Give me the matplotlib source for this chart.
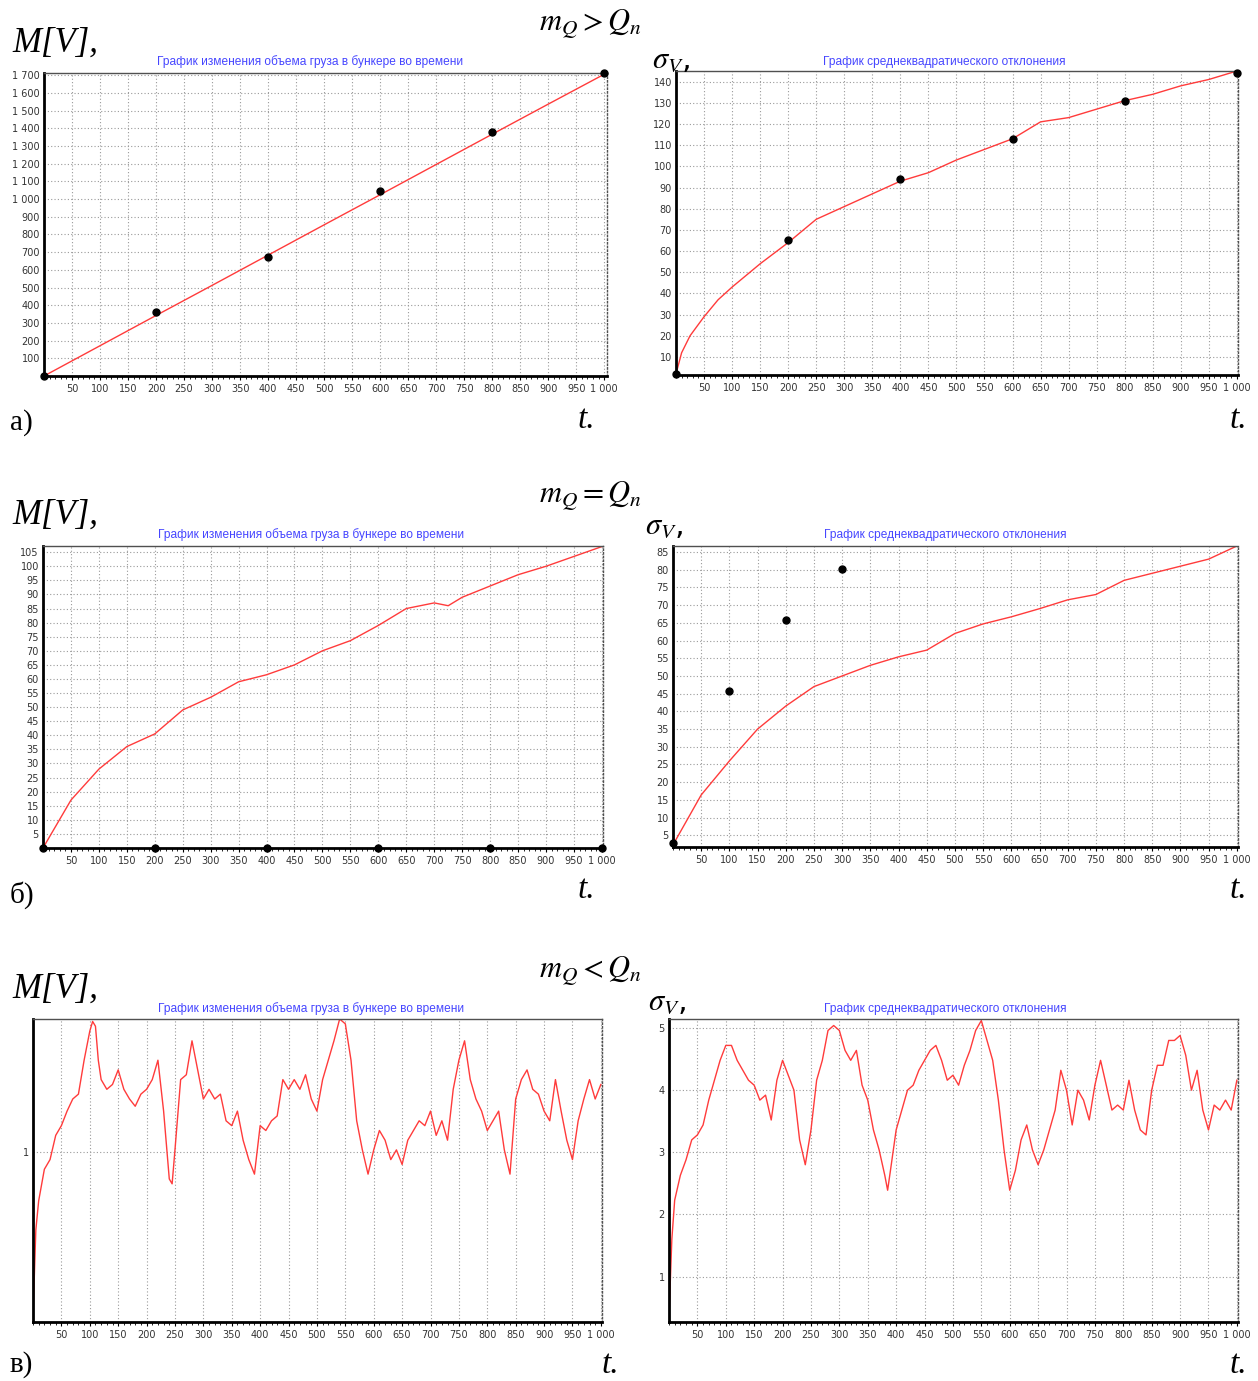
import numpy as np
import matplotlib.pyplot as plt
from matplotlib.ticker import FixedLocator, MultipleLocator, FuncFormatter

plt.rcParams['mathtext.fontset'] = 'stix'

# ---- data -------------------------------------------------------------
# a) m_Q > Q_n
t_a = [0, 100, 200, 300, 400, 500, 600, 700, 800, 900, 1000]
mv_a = [0, 171, 342, 512, 683, 854, 1024, 1195, 1366, 1536, 1705]
t_pts = [0, 200, 400, 600, 800, 1000]
mv_a_pts = [0, 360, 675, 1045, 1380, 1710]

t_sig_a = [0, 10, 25, 50, 75, 100, 150, 200, 250, 300, 350, 400, 450, 500,
           550, 600, 650, 700, 750, 800, 850, 900, 950, 1000]
sig_a = [2, 12, 20, 29, 37, 43, 54, 64, 75, 81, 87, 93, 97, 103,
         108, 113, 121, 123, 127, 131, 134, 138, 141, 145]
sig_a_pts = [2, 65, 94, 113, 131, 144]

# б) m_Q = Q_n
t_b = [0, 50, 100, 150, 200, 250, 300, 350, 400, 450, 500, 550, 600, 650,
       700, 725, 750, 800, 850, 900, 950, 1000]
mv_b = [0, 17, 28, 36, 40.5, 49, 53.5, 59, 61.5, 65, 70, 73.6, 79, 85,
        87, 86, 89, 93, 97, 100, 103.5, 107]
mv_b_pts = [0, 0, 0, 0, 0, 0]

t_sig_b = [0, 50, 100, 150, 200, 250, 300, 350, 400, 450, 500, 550, 600,
           650, 700, 750, 800, 850, 900, 950, 1000]
sig_b = [2.3, 16.4, 26, 35, 41.5, 47, 50, 53, 55.4, 57.3, 62, 64.7, 66.7,
         69, 71.5, 73, 77, 79, 81, 83, 86.7]
t_sig_b_pts = [0, 100, 200, 300]
sig_b_pts = [2.8, 45.8, 65.8, 80.2]

# в) m_Q < Q_n
t_c = [0, 5, 10, 20, 30, 40, 50, 60, 70, 80, 90, 100, 105, 110, 115, 120,
       130, 140, 150, 160, 170, 180, 190, 200, 210, 220, 230, 240, 245, 250,
       260, 270, 280, 290, 300, 310, 320, 330, 340, 350, 360, 370, 380, 390,
       400, 410, 420, 430, 440, 450, 460, 470, 480, 490, 500, 510, 520, 530,
       540, 550, 560, 570, 580, 590, 600, 610, 620, 630, 640, 650, 660, 670,
       680, 690, 700, 710, 720, 730, 740, 750, 760, 770, 780, 790, 800, 810,
       820, 830, 840, 850, 860, 870, 880, 890, 900, 910, 920, 930, 940, 950,
       960, 970, 980, 990, 1000]
mv_c = [0.32, 0.68, 0.80, 0.93, 0.97, 1.07, 1.11, 1.17, 1.22, 1.24, 1.38,
        1.50, 1.54, 1.52, 1.38, 1.30, 1.26, 1.28, 1.34, 1.26, 1.22, 1.19,
        1.24, 1.26, 1.30, 1.38, 1.17, 0.89, 0.87, 1.01, 1.30, 1.32, 1.46,
        1.34, 1.22, 1.26, 1.22, 1.24, 1.13, 1.11, 1.17, 1.05, 0.97, 0.91,
        1.11, 1.09, 1.13, 1.15, 1.30, 1.26, 1.30, 1.26, 1.32, 1.22, 1.17,
        1.30, 1.38, 1.46, 1.55, 1.53, 1.38, 1.13, 1.01, 0.91, 1.01, 1.09,
        1.05, 0.97, 1.01, 0.95, 1.05, 1.09, 1.13, 1.11, 1.17, 1.07, 1.13,
        1.05, 1.26, 1.38, 1.46, 1.30, 1.22, 1.17, 1.09, 1.13, 1.17, 1.01,
        0.91, 1.22, 1.30, 1.34, 1.26, 1.24, 1.17, 1.13, 1.30, 1.17, 1.05,
        0.97, 1.13, 1.22, 1.30, 1.22, 1.28]

t_sig_c = [0, 5, 10, 20, 30, 40, 50, 60, 70, 80, 90, 100, 110, 120, 130,
           140, 150, 160, 170, 180, 190, 200, 210, 220, 230, 240, 250, 260,
           270, 280, 290, 300, 310, 320, 330, 340, 350, 360, 370, 380, 385,
           390, 400, 410, 420, 430, 440, 450, 460, 470, 480, 490, 500, 510,
           520, 530, 540, 550, 560, 570, 580, 590, 600, 610, 620, 630, 640,
           650, 660, 670, 680, 690, 700, 710, 720, 730, 740, 750, 760, 770,
           780, 790, 800, 810, 820, 830, 840, 850, 860, 870, 880, 890, 900,
           910, 920, 930, 940, 950, 960, 970, 980, 990, 1000]
sig_c = [0.34, 1.6, 2.23, 2.63, 2.88, 3.2, 3.28, 3.44, 3.84, 4.16, 4.48,
         4.72, 4.72, 4.48, 4.32, 4.16, 4.08, 3.84, 3.92, 3.52, 4.16, 4.48,
         4.24, 4.0, 3.2, 2.8, 3.36, 4.16, 4.48, 4.96, 5.04, 4.96, 4.64,
         4.48, 4.64, 4.08, 3.84, 3.36, 3.04, 2.63, 2.39, 2.71, 3.36, 3.68,
         4.0, 4.08, 4.32, 4.48, 4.64, 4.72, 4.48, 4.16, 4.24, 4.08, 4.4,
         4.64, 4.96, 5.12, 4.8, 4.48, 3.84, 3.04, 2.39, 2.71, 3.2, 3.44,
         3.04, 2.8, 3.04, 3.36, 3.68, 4.32, 4.0, 3.44, 4.0, 3.84, 3.52,
         4.08, 4.48, 4.08, 3.68, 3.76, 3.68, 4.16, 3.68, 3.36, 3.28, 4.0,
         4.4, 4.4, 4.8, 4.8, 4.88, 4.56, 4.0, 4.32, 3.68, 3.36, 3.76, 3.68,
         3.84, 3.68, 4.16]

title_v = 'График изменения объема груза в бункере во времени'
title_s = 'График среднеквадратического отклонения'

# ---- figure -----------------------------------------------------------
W, H = 1258, 1381
fig = plt.figure(figsize=(W / 100, H / 100), dpi=100)

RED = '#ff3b3b'
BLUE = '#4646ff'
TICKFONT = ['Liberation Sans Narrow', 'DejaVu Sans']


def px_axes(x0, y0, x1, y1):
    return fig.add_axes([x0 / W, 1 - y1 / H, (x1 - x0) / W, (y1 - y0) / H])


def fig_text(x, y, s, **kw):
    fig.text(x / W, 1 - y / H, s, **kw)


def thousands(v, pos):
    return f'{v:,.0f}'.replace(',', ' ')


def style(ax, xlim, ylim, yticks):
    ax.set_xlim(*xlim)
    ax.set_ylim(*ylim)
    ax.xaxis.set_major_locator(FixedLocator(np.arange(50, 1001, 50)))
    ax.xaxis.set_minor_locator(MultipleLocator(10))
    ax.yaxis.set_major_locator(FixedLocator(yticks))
    ax.xaxis.set_major_formatter(FuncFormatter(thousands))
    ax.yaxis.set_major_formatter(FuncFormatter(thousands))
    ax.grid(True, which='major', color='#9a9a9a', linestyle=(0, (1, 2)),
            linewidth=0.8)
    for s in ['left', 'bottom']:
        ax.spines[s].set_linewidth(2)
        ax.spines[s].set_color('black')
    ax.spines['top'].set_linewidth(1)
    ax.spines['top'].set_color('#505050')
    ax.spines['right'].set_linewidth(1)
    ax.spines['right'].set_color('#505050')
    ax.spines['right'].set_linestyle(':')
    ax.tick_params(axis='x', which='major', length=3, width=0.8, pad=3,
                   labelsize=7, labelcolor='#333333')
    ax.tick_params(axis='x', which='minor', length=2, width=0.6)
    ax.tick_params(axis='y', length=0, pad=3, labelsize=7,
                   labelcolor='#333333')
    for lab in ax.get_xticklabels() + ax.get_yticklabels():
        lab.set_family(TICKFONT)


def dots(ax, x, y):
    ax.plot(x, y, 'o', color='black', markersize=5, clip_on=False, zorder=5)


# a) left: volume
ax = px_axes(44, 73, 607, 376)
style(ax, (0, 1005), (0, 1712), np.arange(100, 1701, 100))
ax.plot(t_a, mv_a, color=RED, lw=1)
dots(ax, t_pts, mv_a_pts)

# a) right: std deviation
ax = px_axes(676, 71, 1238, 375)
style(ax, (0, 1002), (1.5, 145), np.arange(10, 141, 10))
ax.plot(t_sig_a, sig_a, color=RED, lw=1)
dots(ax, t_pts, sig_a_pts)

# б) left
ax = px_axes(43, 546, 603, 848)
style(ax, (0, 1002), (0, 107.2), np.arange(5, 106, 5))
ax.plot(t_b, mv_b, color=RED, lw=1)
dots(ax, t_pts, mv_b_pts)

# б) right
ax = px_axes(673, 546, 1238, 847)
style(ax, (0, 1002), (1.7, 86.7), np.arange(5, 86, 5))
ax.plot(t_sig_b, sig_b, color=RED, lw=1)
dots(ax, t_sig_b_pts, sig_b_pts)

# в) left
ax = px_axes(33, 1019, 602, 1322)
style(ax, (0, 1002), (0.3, 1.55), [1])
ax.plot(t_c, mv_c, color=RED, lw=1)

# в) right
ax = px_axes(669, 1019, 1238, 1322)
style(ax, (0, 1002), (0.27, 5.145), [1, 2, 3, 4, 5])
ax.plot(t_sig_c, sig_c, color=RED, lw=1)

# ---- labels -----------------------------------------------------------
SERIF = 'Liberation Serif'
row_y = [0, 472, 946]
cond = [r'$m_Q > Q_n$', r'$m_Q = Q_n$', r'$m_Q < Q_n$']
letters = ['а)', 'б)', 'в)']
for i, dy in enumerate(row_y):
    fig_text(12, 43 + dy, 'M[V],', family=SERIF, style='italic', fontsize=25,
             va='center', ha='left')
    fig_text(590, 24 + dy, cond[i], fontsize=22, va='center', ha='center')
    fig_text(10, 423 + dy if i < 2 else 1365, letters[i], family=SERIF,
             fontsize=21, va='center', ha='left')

for x, y, s in [(310, 62, title_v), (944, 62, title_s),
                (311, 535, title_v), (945, 535, title_s),
                (311, 1009, title_v), (945, 1009, title_s)]:
    fig_text(x, y, s, family='Liberation Sans', fontsize=8.6, color=BLUE,
             ha='center', va='center')

for x, y in [(652, 60), (645, 526), (648, 1001)]:
    fig_text(x, y, r'$\sigma_V$,', fontsize=22, va='center', ha='left')

for x, y in [(578, 420), (1230, 420), (578, 890), (1230, 890),
             (602, 1365), (1230, 1365)]:
    fig_text(x, y, 't.', family=SERIF, style='italic', fontsize=24,
             va='center', ha='left')

fig.savefig('out.png', dpi=100)
